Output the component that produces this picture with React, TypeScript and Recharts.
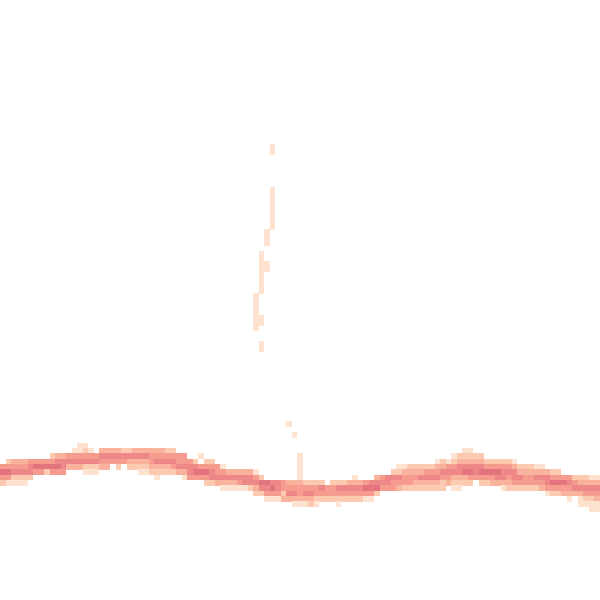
import { ScatterChart, Scatter, XAxis, YAxis } from 'recharts'

// grid of the density image: 109 columns x 112.5 rows across the 600px frame
const CHART_W = 600
const CHART_H = 600
const COLS = 600 / 5.5
const ROWS = 112.5

// colour per density level (0 = empty)
const levelColors = ['transparent', '#fde3cf', '#fccab0', '#f9b39c', '#f59c8e', '#ee8788', '#e2737f']

// the wavy band: for every column, the first filled row and the levels going down
const bandTop = [
  87, 86, 86, 86, 86, 86, 86, 86, 86, 85, 85, 85, 85, 84, 83, 83, 84, 85, 84, 84,
  84, 84, 84, 84, 84, 84, 84, 84, 84, 84, 84, 84, 85, 85, 86, 86, 85, 86, 86, 87,
  87, 88, 88, 88, 88, 88, 88, 89, 90, 90, 90, 90, 90, 90, 90, 90, 90, 90, 90, 91,
  90, 90, 90, 90, 89, 90, 90, 90, 89, 89, 89, 88, 87, 87, 87, 87, 87, 87, 87, 86,
  86, 86, 85, 85, 84, 84, 85, 85, 86, 86, 86, 86, 86, 86, 87, 87, 87, 87, 87, 88,
  88, 88, 89, 89, 89, 89, 89, 89, 89,
]
const bandLevels = [
  '4642', '24641', '34521', '34521', '34521', '4552', '464', '464', '462', '2464',
  '3564', '3554', '453', '1453', '11453', '124521', '14521', '4521', '3543', '3543',
  '354', '3542', '254', '2532', '3532', '35321', '35321', '34432', '345321', '34532',
  '24532', '24542', '4453', '44531', '4554', '2564', '10464', '24642', '24552', '4453',
  '14531', '3531', '3531', '3541', '3551', '3552', '14532', '2652', '6541', '5641',
  '5541', '4423', '3453', '34531', '34431', '24531', '24532', '24421', '2542', '442',
  '2442', '25421', '2542', '3542', '13542', '3542', '4641', '5641', '3562', '454',
  '554', '2544', '12543', '13442', '23442', '23432', '23532', '24532', '24532', '134532',
  '235422', '14543', '1245321', '2355321', '1235632', '1235642', '23554', '235642', '24642', '24643',
  '24653', '245531', '245432', '135542', '23542', '23442', '23442', '13542', '13543', '35541',
  '24642', '24642', '4643', '45431', '2453', '235311', '235421', '1354211', '1354311',
]

// the faint trail rising above the band
const trailCols = [
  49, 49, 49, 49, 49, 49, 49, 49, 49, 49,
  48, 48, 48, 48, 48,
  47, 47, 47, 47, 47, 47, 47, 47, 47, 47, 47, 47,
  46, 46, 46, 46, 46, 46, 46,
  52, 53,
  54, 54, 54, 54, 54,
]
const trailRows = [
  27, 28, 35, 36, 37, 38, 39, 40, 41, 42,
  43, 44, 45, 49, 50,
  47, 48, 49, 50, 51, 52, 53, 54, 59, 60, 64, 65,
  55, 56, 57, 58, 59, 60, 61,
  79, 81,
  85, 86, 87, 88, 89,
]

type Cell = { x: number; y: number; level: number }

const cells: Cell[] = []
bandTop.forEach((top, c) => {
  bandLevels[c].split('').forEach((d, i) => {
    const level = Number(d)
    if (level > 0) cells.push({ x: c + 0.5, y: top + i + 0.5, level })
  })
})
trailCols.forEach((c, i) => cells.push({ x: c + 0.5, y: trailRows[i] + 0.5, level: 1 }))

const cellW = CHART_W / COLS
const cellH = CHART_H / ROWS

function CellShape(props: any) {
  const { cx, cy, payload } = props
  if (cx == null || cy == null) return null
  return (
    <rect
      x={cx - cellW / 2}
      y={cy - cellH / 2}
      width={cellW + 0.4}
      height={cellH + 0.4}
      fill={levelColors[payload.level]}
      shapeRendering="crispEdges"
    />
  )
}

export default function App() {
  return (
    <div style={{ position: 'absolute', left: 0, top: 0, width: CHART_W, height: CHART_H, background: '#ffffff' }}>
      <ScatterChart width={CHART_W} height={CHART_H} margin={{ top: 0, right: 0, bottom: 0, left: 0 }}>
        <XAxis type="number" dataKey="x" domain={[0, COLS]} hide allowDataOverflow />
        <YAxis type="number" dataKey="y" domain={[0, ROWS]} reversed hide allowDataOverflow />
        <Scatter data={cells} shape={CellShape} isAnimationActive={false} />
      </ScatterChart>
    </div>
  )
}
